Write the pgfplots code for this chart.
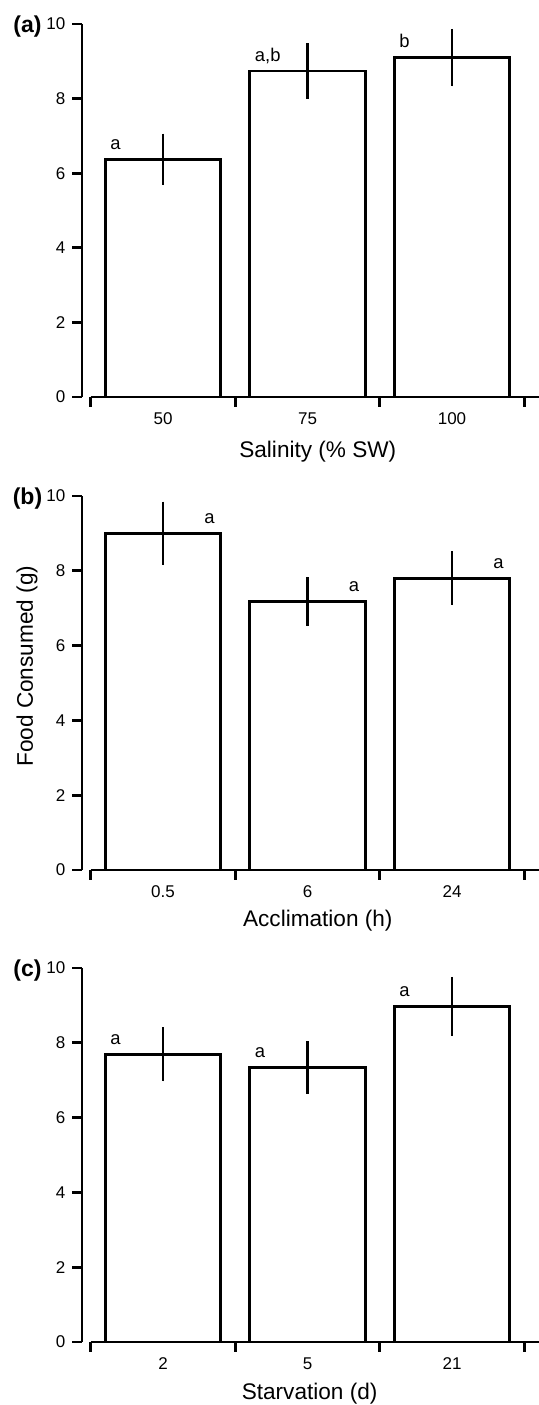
\documentclass[border=0pt]{standalone}
\usepackage{fontspec}
\setmainfont{Liberation Sans}
\usepackage{pgfplots}
\pgfplotsset{compat=1.18}

\tikzset{
  plabel/.style={font=\fontsize{11.5}{13}\selectfont\bfseries, inner sep=0pt,
    anchor=center, xshift=-27.25pt, yshift=-1.3pt},
}
\pgfplotsset{
  panel/.style={
    scale only axis,
    width=228.5pt,
    xmin=-0.5606, xmax=2.602,
    ymin=0, ymax=10,
    enlargelimits=false,
    clip=false,
    axis y line*=left,
    axis x line*=bottom,
    axis line style={line width=1.4pt, black},
    x axis line style={shorten <=4.375pt},
    every tick/.style={black, line width=1.4pt},
    tick align=outside,
    major tick length=4.8pt,
    ytick={0,2,4,6,8,10},
    xtick={-0.5,0.5,1.5,2.5},
    xticklabels={},
    extra x ticks={0,1,2},
    extra x tick style={major tick length=0pt},
    xticklabel style={yshift=-4.5pt},
    tick label style={font=\fontsize{8.5}{10}\selectfont},
    /pgf/number format/assume math mode=true,
    label style={font=\fontsize{11.3}{13}\selectfont},
    ybar,
    bar width=0.8,
    nodes near coords,
    point meta=explicit symbolic,
  },
  bars/.style={draw=black, fill=white, line width=1.4pt,
    error bars/.cd, y dir=both, y explicit,
    error mark=none,
    error bar style={line width=1.4pt, black}},
  lettersleft/.style={nodes near coords style={anchor=base west, inner sep=0pt,
    xshift=-27pt, yshift=5pt, font=\fontsize{9.2}{11}\selectfont, black}},
  lettersright/.style={nodes near coords style={anchor=base east, inner sep=0pt,
    xshift=26.5pt, yshift=5pt, font=\fontsize{9.2}{11}\selectfont, black}},
}

\begin{document}
\begin{tikzpicture}
\useasboundingbox (0,0) rectangle (269.5pt,-702.5pt);

% (a) salinity
\begin{axis}[panel, lettersleft,
  at={(41pt,-198.5pt)}, anchor=south west, height=186.5pt,
  extra x tick labels={50,75,100},
  xlabel={Salinity (\% SW)},
  xlabel style={at={(axis description cs:0.516,0)}, anchor=center, yshift=-27.5pt},
]
\addplot[bars] coordinates {
  (0,6.37) +- (0,0.69) [a]
  (1,8.74) +- (0,0.75) [{a,b}]
  (2,9.10) +- (0,0.77) [b]
};
\node[plabel] at (rel axis cs:0,1) {(a)};
\end{axis}

% (b) acclimation
\begin{axis}[panel, lettersright,
  at={(41pt,-435pt)}, anchor=south west, height=187pt,
  extra x tick labels={0.5,6,24},
  xlabel={Acclimation (h)},
  xlabel style={at={(axis description cs:0.516,0)}, anchor=center, yshift=-25.5pt},
  ylabel={Food Consumed (g)},
  ylabel style={at={(axis description cs:-0.1204,0.545)}, anchor=center},
]
\addplot[bars] coordinates {
  (0,9.00) +- (0,0.85) [a]
  (1,7.18) +- (0,0.66) [a]
  (2,7.80) +- (0,0.72) [a]
};
\node[plabel] at (rel axis cs:0,1) {(b)};
\end{axis}

% (c) starvation
\begin{axis}[panel, lettersleft,
  at={(41pt,-671pt)}, anchor=south west, height=187pt,
  extra x tick labels={2,5,21},
  xlabel={Starvation (d)},
  xlabel style={at={(axis description cs:0.498,0)}, anchor=center, yshift=-26pt},
]
\addplot[bars] coordinates {
  (0,7.69) +- (0,0.72) [a]
  (1,7.34) +- (0,0.70) [a]
  (2,8.97) +- (0,0.79) [a]
};
\node[plabel] at (rel axis cs:0,1) {(c)};
\end{axis}
\end{tikzpicture}
\end{document}
